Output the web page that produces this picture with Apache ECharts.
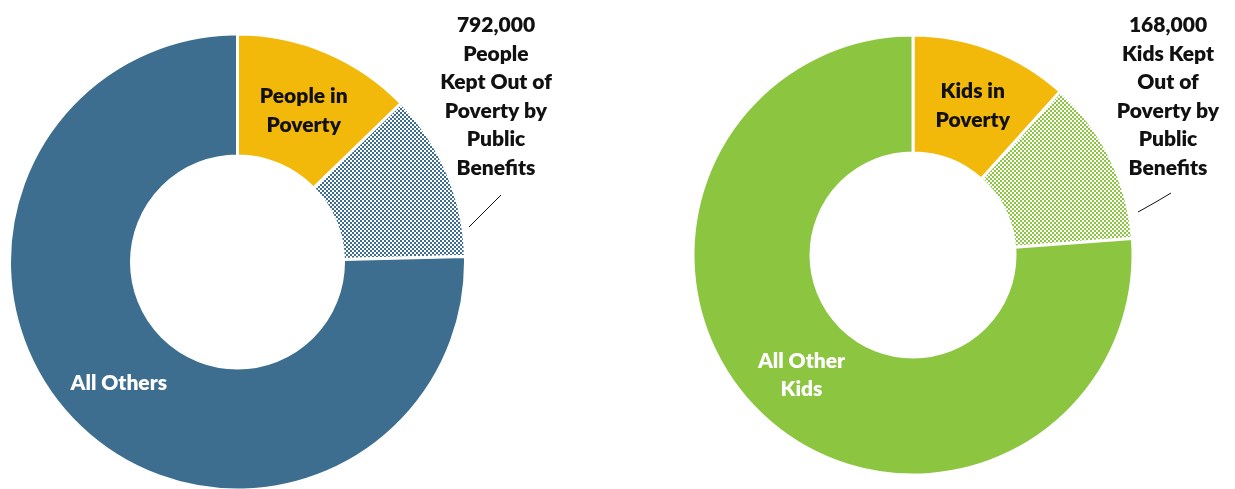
<!DOCTYPE html>
<html>
<head>
<meta charset="utf-8">
<script src="https://cdn.jsdelivr.net/npm/echarts@6/dist/echarts.min.js"></script>
<style>
  html, body { margin: 0; padding: 0; background: #ffffff; }
  #chart { width: 1235px; height: 489px; }
</style>
</head>
<body>
<div id="chart"></div>
<script>
// All residents
const peopleNames = ['People in\nPoverty', '792,000\nPeople\nKept Out of\nPoverty by\nPublic\nBenefits', 'All Others'];
const peopleValues = [850000, 792000, 5030000];

// Children only
const kidsNames = ['Kids in\nPoverty', '168,000\nKids Kept\nOut of\nPoverty by\nPublic\nBenefits', 'All Other\nKids'];
const kidsValues = [161500, 168000, 1055000];

const BLUE = '#3d6e8f';
const GREEN = '#8cc540';
const GOLD = '#f2b90b';
const FONT = 'Lato, "Open Sans", sans-serif';

// small checkerboard fill for the "kept out of poverty" slice
function checker(color) {
  const c = document.createElement('canvas');
  c.width = 4; c.height = 4;
  const g = c.getContext('2d');
  g.fillStyle = '#ffffff';
  g.fillRect(0, 0, 4, 4);
  g.fillStyle = color;
  g.fillRect(0, 0, 2, 2);
  g.fillRect(2, 2, 2, 2);
  return { image: c, repeat: 'repeat' };
}

function buildData(names, values, mainColor, goldOffset) {
  return names.map((n, i) => {
    const d = { name: n, value: values[i] };
    if (i === 0) {
      d.itemStyle = { color: GOLD };
      d.label = { color: '#111111', offset: goldOffset };
    } else if (i === 1) {
      d.itemStyle = { color: checker(mainColor) };
      d.label = { position: 'outside', color: '#111111' };
      d.labelLine = { show: true, length: 10, length2: 10, lineStyle: { color: '#111111', width: 1 } };
    } else {
      d.itemStyle = { color: mainColor };
      d.label = { color: '#ffffff' };
    }
    return d;
  });
}

function pieSeries(names, values, mainColor, center, radius, goldOffset, calloutX, calloutLine) {
  return {
    type: 'pie',
    center: center,
    radius: radius,
    startAngle: 90,
    clockwise: true,
    avoidLabelOverlap: false,
    animation: false,
    itemStyle: { borderColor: '#ffffff', borderWidth: 3 },
    label: {
      show: true,
      position: 'inside',
      formatter: '{b}',
      fontFamily: FONT,
      fontWeight: 800,
      fontSize: 21,
      lineHeight: 28.6,
      align: 'center'
    },
    labelLine: { show: false },
    emphasis: { disabled: true },
    labelLayout: function (params) {
      if (params.dataIndex !== 1) return {};
      return {
        x: calloutX,
        y: 11,
        align: 'center',
        verticalAlign: 'top',
        labelLinePoints: calloutLine
      };
    },
    data: buildData(names, values, mainColor, goldOffset)
  };
}

const chart = echarts.init(document.getElementById('chart'));
chart.setOption({
  backgroundColor: '#ffffff',
  series: [
    pieSeries(peopleNames, peopleValues, BLUE, [237.5, 262], [106, 228], [0, 5], 496,
      [[501, 195], [485, 211], [469, 227]]),
    pieSeries(kidsNames, kidsValues, GREEN, [913, 255], [102, 220], [1, 4], 1168,
      [[1171, 193], [1155, 202.5], [1138, 212]])
  ]
});
</script>
</body>
</html>
